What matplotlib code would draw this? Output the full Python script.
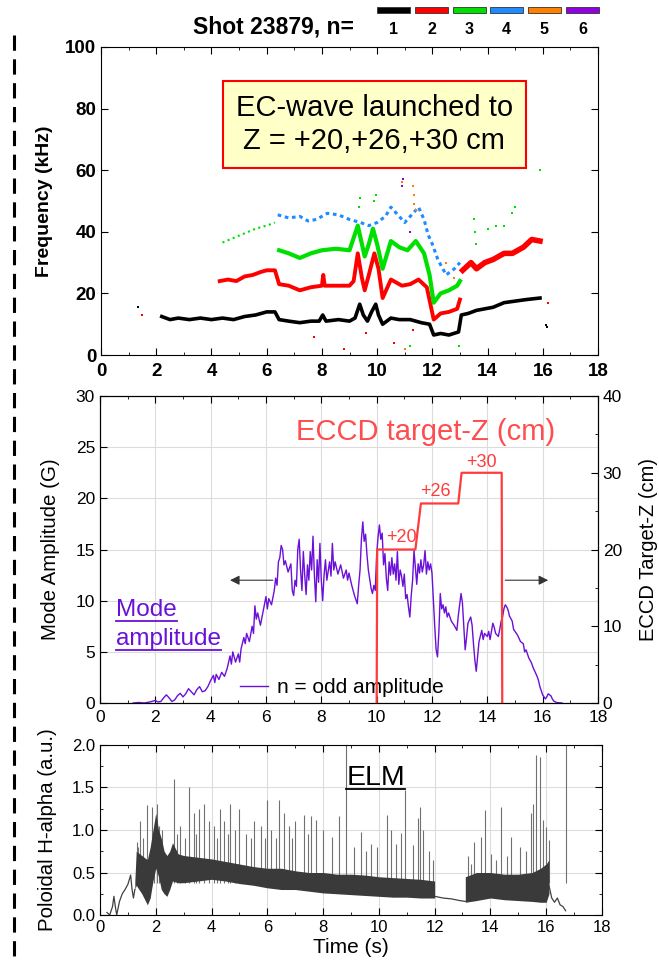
import numpy as np
import matplotlib
matplotlib.use("Agg")
import matplotlib.pyplot as plt
from matplotlib.lines import Line2D
from matplotlib.patches import Rectangle
from matplotlib.ticker import MultipleLocator, FormatStrFormatter

plt.rcParams['font.family'] = ['Liberation Sans', 'DejaVu Sans']

# ---- top panel: mode frequencies (kHz) ----
n1_t = [2.2, 2.5, 2.8, 3.2, 3.6, 4.0, 4.4, 4.8, 5.2, 5.6, 6.0, 6.3, 6.45, 6.8, 7.2, 7.6, 7.9, 8.03,
        8.15, 8.6, 9.0, 9.2, 9.37, 9.5, 9.65, 9.8, 9.95, 10.05, 10.2, 10.5, 10.8, 11.2, 11.6, 11.9,
        12.05, 12.3, 12.6, 12.95, 13.05, 13.3, 13.6, 13.9, 14.2, 14.6, 15.0, 15.4, 15.9]
n1_f = [12.5, 11.5, 12, 11.5, 12, 11.5, 12, 11.5, 12.5, 13, 14, 14, 11.5, 11, 10.5, 11, 11, 13,
        11, 11.5, 11, 12, 16.5, 13, 11, 14, 16.5, 13, 10, 12, 11.5, 11.5, 10.5, 10,
        6.5, 7, 6.5, 7.5, 13, 13.5, 14.5, 15, 15.5, 17, 17.5, 18, 18.5]

n2a_t = [4.3, 4.6, 4.9, 5.2, 5.5, 5.8, 6.0, 6.3, 6.45, 6.8, 7.2, 7.6, 8.0, 8.05, 8.1, 8.5, 9.0,
         9.15, 9.3, 9.45, 9.55, 9.7, 9.9, 10.05, 10.2, 10.5, 10.9, 11.2, 11.5, 11.8, 12.05, 12.3,
         12.6, 12.9, 13.0]
n2a_f = [24, 24.5, 24, 25.5, 26, 27, 27.5, 27.5, 23, 22.5, 21, 22, 22.5, 26, 22.5, 22.5, 22.5,
         24, 33, 25, 21, 26, 33, 28, 18.5, 24.5, 22.5, 23, 24.5, 22, 11.5, 13.5,
         14, 15, 18]
n2b_t = [13.1, 13.4, 13.6, 13.9, 14.2, 14.6, 14.9, 15.3, 15.6, 15.9]
n2b_f = [27.5, 30, 28, 30, 31, 33, 33, 35, 37.5, 37]

n3a_t = [4.4, 4.8, 5.2, 5.6, 6.0, 6.3]
n3a_f = [36.5, 38, 39.5, 41, 42, 43]
n3b_t = [6.45, 6.8, 7.2, 7.6, 8.0, 8.5, 9.0, 9.15, 9.3, 9.45, 9.55, 9.7, 9.85, 10.0, 10.2, 10.5,
         10.8, 11.1, 11.4, 11.7, 11.9, 12.05, 12.3, 12.6, 12.9, 13.0]
n3b_f = [34, 33, 31.5, 33, 34, 34.5, 34, 38, 42, 36, 32, 36, 41, 36, 28, 37,
         35, 34, 37, 33, 26, 17, 20, 21, 22.5, 24]

n4_t = [6.4, 6.8, 7.2, 7.5, 7.8, 8.2, 8.6, 9.0, 9.4, 9.7, 10.0, 10.3, 10.5, 10.8, 11.0, 11.3,
        11.5, 11.7, 11.85, 12.0, 12.2, 12.5, 12.8, 13.0]
n4_f = [45.5, 44.5, 45, 43.5, 44, 46, 45.5, 44, 43, 42, 43, 45, 48, 45, 43, 46,
        48, 44, 39, 36, 31, 26, 28, 30]

# isolated points of the spectrogram
dots_black = ([1.35, 16.1, 16.15], [15.5, 9.9, 9.0])
dots_red = ([1.5, 7.7, 8.8, 9.6, 10.6, 11.0, 11.3, 16.2],
            [13, 6, 2, 7, 4, 2, 8, 17])
dots_green = ([9.35, 9.38, 9.9, 9.95, 13.5, 13.55, 13.6, 14.0, 14.3, 14.6, 14.9, 15.0, 15.9, 11.2, 12.95],
              [48, 51, 50, 52, 44, 40, 36, 41, 42, 42, 46, 48, 60, 3, 3])
dots_orange = ([10.9, 11.3, 11.32, 11.35, 11.4, 12.5, 12.8, 11.0],
               [56, 55, 52, 49, 47, 30, 25, 2])
dots_purple = ([10.9, 10.92, 11.2], [55, 57, 40])

# ---- middle panel: mode amplitude (G) and ECCD target ----
amp_t = [1.2, 1.4, 1.6, 1.8, 2.0, 2.1, 2.2, 2.3, 2.4, 2.5, 2.6, 2.7, 2.8, 2.9, 3.0, 3.1, 3.2, 3.3,
         3.4, 3.5, 3.6, 3.7, 3.8, 3.9, 4.0, 4.1, 4.15, 4.2, 4.3, 4.4, 4.5, 4.6, 4.7, 4.75, 4.8, 4.9,
         5.0, 5.05, 5.1, 5.2, 5.25, 5.3, 5.4, 5.5, 5.55, 5.6, 5.65, 5.7, 5.8, 5.9, 6.0, 6.05, 6.1,
         6.2, 6.3, 6.35, 6.4, 6.45, 6.5, 6.55, 6.6, 6.65, 6.7, 6.8, 6.9, 6.95, 7.0, 7.05, 7.1, 7.15,
         7.2, 7.25, 7.3, 7.35, 7.4, 7.45, 7.5, 7.55, 7.6, 7.65, 7.7, 7.75, 7.8, 7.85, 7.9, 7.95, 8.0,
         8.05, 8.1, 8.15, 8.2, 8.3, 8.35, 8.4, 8.45, 8.5, 8.6, 8.7, 8.8, 8.9, 8.95, 9.0, 9.1, 9.2,
         9.3, 9.35, 9.4, 9.45, 9.5, 9.55, 9.6, 9.65, 9.7, 9.8, 9.85, 9.9, 9.95, 10.0, 10.05, 10.1,
         10.15, 10.2, 10.25, 10.3, 10.35, 10.4, 10.45, 10.5, 10.55, 10.6, 10.65, 10.7, 10.75, 10.8,
         10.85, 10.9, 10.95, 11.0, 11.05, 11.1, 11.15, 11.2, 11.25, 11.3, 11.35, 11.4, 11.45, 11.5,
         11.55, 11.6, 11.65, 11.7, 11.75, 11.8, 11.85, 11.9, 11.95, 12.0, 12.05, 12.1, 12.15, 12.2,
         12.25, 12.3, 12.35, 12.4, 12.45, 12.5, 12.55, 12.6, 12.7, 12.8, 12.9, 12.95, 13.0, 13.05,
         13.1, 13.15, 13.2, 13.25, 13.3, 13.4, 13.45, 13.5, 13.55, 13.6, 13.65, 13.7, 13.8, 13.85,
         13.9, 14.0, 14.05, 14.1, 14.2, 14.25, 14.3, 14.4, 14.45, 14.5, 14.55, 14.6, 14.65, 14.7,
         14.75, 14.8, 14.9, 14.95, 15.0, 15.1, 15.2, 15.3, 15.35, 15.4, 15.5, 15.6, 15.65, 15.7,
         15.8, 15.85, 15.9, 15.95, 16.0, 16.1, 16.15, 16.2, 16.3, 16.35, 16.4, 16.5, 16.7]
amp_g = [0.0, 0.05, 0.0, 0.1, 0.25, 0.1, 0.15, 0.5, 0.8, 0.5, 0.15, 0.3, 0.7, 0.95, 0.6, 0.9, 1.4, 1.1,
         0.8, 1.3, 1.6, 1.1, 1.2, 1.6, 2.2, 2.7, 2.0, 2.8, 2.3, 3.0, 2.6, 3.4, 4.6, 3.8, 5.0, 4.0,
         4.8, 4.0, 5.3, 6.4, 5.8, 6.8, 6.0, 7.5, 6.8, 9.5, 8.2, 8.8, 7.6, 9.0, 10.4, 9.2, 10.2,
         9.6, 11.0, 12.2, 11.5, 13.8, 14.2, 15.4, 15.0, 13.5, 13.9, 12.8, 13.6, 11.0, 10.5, 12.0, 11.4, 15.0,
         16.0, 13.0, 11.0, 14.8, 12.5, 10.6, 13.5, 12.0, 14.8, 13.0, 16.3, 12.5, 9.9, 14.0, 11.8, 15.6, 12.0,
         10.0, 12.5, 14.0, 12.0, 13.8, 12.4, 15.6, 13.0, 13.8, 12.6, 13.5, 12.2, 13.0, 12.0, 12.7, 11.5, 10.5,
         9.7, 11.5, 13.0, 16.0, 17.7, 15.8, 16.5, 14.5, 13.0, 11.2, 10.7, 11.5, 11.0, 14.5, 16.2, 17.4,
         16.0, 16.6, 13.5, 14.6, 12.2, 11.0, 13.8, 12.5, 14.2, 12.6, 13.6, 12.0, 14.8, 11.6,
         13.0, 12.4, 11.4, 12.6, 10.2, 10.6, 9.4, 8.4, 10.5, 12.0, 14.9, 13.2, 11.6, 13.6,
         12.7, 14.0, 12.8, 13.5, 14.9, 12.6, 13.8, 13.0, 13.6, 12.7, 10.0, 7.5, 5.2, 4.5,
         7.0, 10.7, 9.2, 9.6, 8.8, 9.4, 8.4, 8.8, 8.0, 7.6, 7.1, 8.5, 9.6, 10.7,
         9.8, 7.5, 5.2, 6.4, 7.8, 8.4, 7.6, 5.8, 4.2, 3.1, 4.6, 6.0, 7.1, 6.2,
         6.8, 6.5, 7.0, 6.2, 7.8, 7.4, 6.8, 6.5, 7.2, 8.0, 8.4, 9.2, 9.6, 9.4,
         9.1, 8.5, 8.0, 7.2, 7.0, 6.6, 6.0, 5.8, 5.0, 5.2, 4.4, 3.9, 3.5, 3.2,
         2.6, 2.2, 1.6, 1.2, 0.8, 0.4, 0.6, 0.9, 0.7, 0.4, 0.2, 0.05, 0.0]

eccd_t = [10.0, 10.02, 11.4, 11.6, 12.95, 13.07, 14.52, 14.54]
eccd_z = [0, 20, 20, 26, 26, 30, 30, 0]
eccd_lbl = ['+20', '+26', '+30']
eccd_lbl_t = [10.88, 12.14, 13.8]
eccd_lbl_z = [21.6, 27.5, 31.4]

# ---- bottom panel: poloidal H-alpha (a.u.) ----
ha_pre_t = [0.25, 0.35, 0.45, 0.5, 0.55, 0.6, 0.65, 0.7, 0.8, 0.9, 1.0, 1.1, 1.15, 1.2, 1.25]
ha_pre_v = [0.03, 0.0, 0.1, 0.22, 0.1, 0.0, 0.08, 0.16, 0.25, 0.3, 0.36, 0.47, 0.3, 0.2, 0.3]
band1_t = [1.25, 1.3, 1.5, 1.7, 1.8, 1.9, 2.0, 2.1, 2.2, 2.3, 2.4, 2.5, 2.6, 2.8, 3.0, 3.5, 4.0, 4.5,
           5.0, 5.5, 6.0, 6.5, 7.0, 7.5, 8.0, 8.5, 9.0, 9.5, 10.0, 10.5, 11.0, 11.5, 12.0]
band1_lo = [0.3, 0.35, 0.25, 0.12, 0.2, 0.4, 0.55, 0.45, 0.3, 0.25, 0.22, 0.3, 0.4, 0.38, 0.38, 0.4, 0.42, 0.4,
            0.37, 0.35, 0.32, 0.3, 0.3, 0.28, 0.26, 0.25, 0.24, 0.23, 0.22, 0.21, 0.21, 0.2, 0.2]
band1_hi = [0.4, 0.75, 0.7, 0.65, 0.8, 1.0, 1.2, 1.0, 0.9, 0.75, 0.7, 0.75, 0.85, 0.72, 0.7, 0.68, 0.66, 0.63,
            0.6, 0.57, 0.55, 0.55, 0.52, 0.5, 0.5, 0.48, 0.48, 0.47, 0.45, 0.44, 0.43, 0.42, 0.4]
ha_mid_t = [12.0, 12.3, 12.6, 12.9, 13.1]
ha_mid_v = [0.22, 0.2, 0.19, 0.17, 0.16]
band2_t = [13.1, 13.5, 14.0, 14.5, 15.0, 15.5, 15.8, 16.0, 16.1]
band2_lo = [0.15, 0.17, 0.2, 0.18, 0.17, 0.16, 0.15, 0.15, 0.25]
band2_hi = [0.45, 0.5, 0.5, 0.48, 0.48, 0.5, 0.55, 0.6, 0.65]
ha_tail_t = [16.1, 16.2, 16.3, 16.4, 16.5, 16.6, 16.7]
ha_tail_v = [0.35, 0.2, 0.15, 0.2, 0.12, 0.1, 0.05]
spike_t = [1.32, 1.38, 1.44, 1.55, 1.68, 1.86, 1.95, 2.04, 2.12, 2.22, 2.64, 2.75, 2.88, 3.05, 3.18,
           3.36, 3.45, 3.54, 3.72, 3.9, 4.08, 4.2, 4.32, 4.44, 4.58, 4.68, 4.85, 4.98, 5.22, 5.4,
           5.52, 5.76, 5.9, 6.0, 6.12, 6.3, 6.42, 6.6, 6.78, 6.9, 7.0, 7.31, 7.45, 7.56, 7.74,
           7.98, 8.33, 8.57, 8.84, 9.11, 9.35, 9.55, 9.71, 9.95, 10.31, 10.43, 10.6, 10.79, 10.94,
           11.21, 11.39, 11.49, 11.57, 11.81, 11.95, 13.19, 13.3, 13.43, 13.67, 13.79, 14.04, 14.2,
           14.39, 14.6, 14.75, 15.05, 15.29, 15.47, 15.53, 15.65, 15.77, 15.89, 16.01, 16.09, 16.72]
spike_v = [0.86, 0.8, 1.1, 0.9, 1.29, 1.27, 1.0, 1.3, 1.05, 1.0, 1.6, 0.95, 1.05, 0.9, 1.5,
           1.2, 0.95, 1.25, 1.3, 1.1, 1.05, 0.9, 1.25, 1.1, 0.95, 1.3, 1.0, 1.25, 0.95, 0.9,
           1.1, 1.05, 0.9, 1.35, 1.0, 0.9, 1.35, 1.2, 1.05, 0.9, 1.1, 1.18, 0.95, 1.16, 1.12,
           1.0, 0.92, 1.16, 2.0, 0.8, 0.98, 0.75, 0.84, 0.8, 1.18, 1.0, 0.84, 0.96, 1.47,
           0.82, 1.14, 1.27, 1.0, 0.75, 0.65, 0.7, 0.6, 0.86, 0.92, 1.24, 0.72, 0.65,
           1.27, 0.7, 0.92, 0.8, 0.75, 1.2, 1.31, 1.88, 1.86, 1.12, 1.04, 0.88, 2.0]

xticks = np.arange(0, 19, 2)
purple = '#6a10d8'
eccd_red = '#ff3b3b'

fig = plt.figure(figsize=(6.59, 9.69), dpi=100)


def style_axis(ax, size, bold=False):
    ax.tick_params(which='both', direction='in', top=True, right=True, labelsize=size)
    ax.tick_params(which='major', length=5)
    ax.tick_params(which='minor', length=2.5)
    if bold:
        for lab in ax.get_xticklabels() + ax.get_yticklabels():
            lab.set_fontweight('bold')


# ----- top panel -----
ax1 = fig.add_axes([0.1533, 0.6336, 0.7541, 0.3180])
ax1.plot(n1_t, n1_f, color='black', lw=2.6, solid_joinstyle='round')
ax1.plot(n2a_t, n2a_f, color='red', lw=2.8, solid_joinstyle='round')
ax1.plot(n2b_t, n2b_f, color='red', lw=4.0, solid_joinstyle='round')
ax1.plot(n3a_t, n3a_f, color='#00e000', lw=1.5, ls=':')
ax1.plot(n3b_t, n3b_f, color='#00e000', lw=3.0, solid_joinstyle='round')
ax1.plot(n4_t, n4_f, color='#1e8cff', lw=2.2, ls=(0, (1.2, 1.2)))
ax1.plot(*dots_black, 's', color='black', ms=1.5, mew=0)
ax1.plot(*dots_red, 's', color='red', ms=1.5, mew=0)
ax1.plot(*dots_green, 's', color='#00e000', ms=1.8, mew=0)
ax1.plot(*dots_orange, 's', color='#ff8000', ms=1.8, mew=0)
ax1.plot(*dots_purple, 's', color='#9000e0', ms=1.8, mew=0)
ax1.set_xlim(0, 18)
ax1.set_ylim(0, 100)
ax1.set_xticks(xticks)
ax1.set_yticks(np.arange(0, 101, 20))
ax1.xaxis.set_minor_locator(MultipleLocator(1))
ax1.set_ylabel('Frequency (kHz)', fontsize=14, fontweight='bold', labelpad=9)
style_axis(ax1, 13.5, bold=True)
ax1.tick_params(axis='x', pad=6)
ax1.text(9.9, 74.8, 'EC-wave launched to\nZ = +20,+26,+30 cm', fontsize=21,
         ha='center', va='center', linespacing=1.2,
         bbox=dict(boxstyle='square,pad=0.45', fc='#ffffc8', ec='red', lw=1.5))

# title and colour key
fig.text(193 / 659, 1 - 27 / 969, 'Shot 23879, n=', fontsize=16.5, fontweight='bold',
         ha='left', va='center')
key_colors = ['black', 'red', '#00e000', '#1e8cff', '#ff8000', '#9000e0']
key_x = [377, 415, 453, 490, 528, 566]
for i, (c, x) in enumerate(zip(key_colors, key_x)):
    fig.patches.append(Rectangle((x / 659, 1 - 13 / 969), 33 / 659, 6 / 969,
                                 transform=fig.transFigure, fc=c, ec='#333333', lw=0.6))
    fig.text((x + 16.5) / 659, 1 - 30 / 969, str(i + 1), fontsize=11.5, fontweight='bold',
             ha='center', va='center')

# ----- middle panel -----
ax2 = fig.add_axes([0.1517, 0.2745, 0.7557, 0.3168])
ax2.plot(amp_t, amp_g, color=purple, lw=1.0, label='n = odd amplitude')
ax2.set_xlim(0, 18)
ax2.set_ylim(0, 30)
ax2.set_xticks(xticks)
ax2.xaxis.set_minor_locator(MultipleLocator(1))
ax2.yaxis.set_major_locator(MultipleLocator(5))
ax2.grid(True, color='#dcdcdc', lw=0.8)
ax2.set_axisbelow(True)
ax2.set_ylabel('Mode Amplitude (G)', fontsize=14.8, labelpad=11)
style_axis(ax2, 12.5)
ax2.tick_params(right=False)
ax2.tick_params(axis='x', pad=5)
ax2.legend(loc='center left', bbox_to_anchor=(0.281, 0.05), frameon=False, fontsize=15,
           handlelength=1.35, handletextpad=0.43, borderpad=0, borderaxespad=0)
ax2.annotate('', xy=(4.6, 12), xytext=(6.35, 12),
             arrowprops=dict(arrowstyle='-|>', color='#333333', lw=0.8, mutation_scale=14))
ax2.annotate('', xy=(16.3, 12), xytext=(14.55, 12),
             arrowprops=dict(arrowstyle='-|>', color='#333333', lw=0.8, mutation_scale=14))

ax2r = ax2.twinx()
ax2r.plot(eccd_t, eccd_z, color=eccd_red, lw=1.6)
ax2r.set_ylim(0, 40)
ax2r.yaxis.set_major_locator(MultipleLocator(10))
ax2r.yaxis.set_minor_locator(MultipleLocator(5))
ax2r.tick_params(which='both', direction='in', labelsize=12.5)
ax2r.tick_params(which='major', length=5)
ax2r.tick_params(which='minor', length=2.5)
ax2r.set_ylabel('ECCD Target-Z (cm)', fontsize=14.5, labelpad=12)
for lbl, t, z in zip(eccd_lbl, eccd_lbl_t, eccd_lbl_z):
    ax2r.text(t, z, lbl, color=eccd_red, fontsize=13, ha='center', va='center')
ax2r.text(7.08, 35.3, 'ECCD target-Z (cm)', color='#ff4d4d', fontsize=21,
          ha='left', va='center')

t_mode = ax2.text(0.58, 8.48, 'Mode', color=purple, fontsize=17.5, ha='left', va='baseline')
t_amp = ax2.text(0.58, 5.65, 'amplitude', color=purple, fontsize=17.5, ha='left', va='baseline')

# ----- bottom panel -----
ax3 = fig.add_axes([0.1517, 0.0557, 0.7617, 0.1755])
ax3.vlines(spike_t, 0.38, spike_v, color='#707070', lw=0.8, zorder=1)
ax3.plot(ha_pre_t, ha_pre_v, color='#404040', lw=0.9)
ax3.fill_between(band1_t, band1_lo, band1_hi, color='#3a3a3a', lw=0, zorder=1.5)
ax3.plot(ha_mid_t, ha_mid_v, color='#404040', lw=0.9)
ax3.fill_between(band2_t, band2_lo, band2_hi, color='#3a3a3a', lw=0, zorder=1.5)
ax3.plot(ha_tail_t, ha_tail_v, color='#404040', lw=0.9)
ax3.set_xlim(0, 18)
ax3.set_ylim(0, 2.0)
ax3.set_xticks(xticks)
ax3.xaxis.set_minor_locator(MultipleLocator(1))
ax3.yaxis.set_major_locator(MultipleLocator(0.5))
ax3.yaxis.set_minor_locator(MultipleLocator(0.25))
ax3.yaxis.set_major_formatter(FormatStrFormatter('%.1f'))
ax3.grid(True, color='#dcdcdc', lw=0.8)
ax3.set_axisbelow(True)
ax3.set_ylabel('Poloidal H-alpha (a.u.)', fontsize=14.7, labelpad=11)
ax3.set_xlabel('Time (s)', fontsize=15, labelpad=2)
style_axis(ax3, 12)
t_elm = ax3.text(8.83, 1.53, 'ELM', fontsize=20.5, ha='left', va='baseline')

# dashed separator on the left
fig.add_artist(Line2D([14 / 659, 14 / 659], [1 - 35 / 969, 1 - 958 / 969], transform=fig.transFigure,
                      color='black', lw=2.2, ls=(0, (5, 2.8))))

# underline the hand-written style labels
fig.canvas.draw()
renderer = fig.canvas.get_renderer()
inv = fig.transFigure.inverted()
for txt, col in [(t_mode, purple), (t_amp, purple), (t_elm, 'black')]:
    bb = txt.get_window_extent(renderer)
    base = txt.get_transform().transform(txt.get_position())[1] - 4.5
    (x0, y0), (x1, y1) = inv.transform([[bb.x0, base], [bb.x1, base]])
    fig.add_artist(Line2D([x0, x1], [y0, y0], transform=fig.transFigure, color=col, lw=1.3))

fig.savefig('out.png', dpi=100)
